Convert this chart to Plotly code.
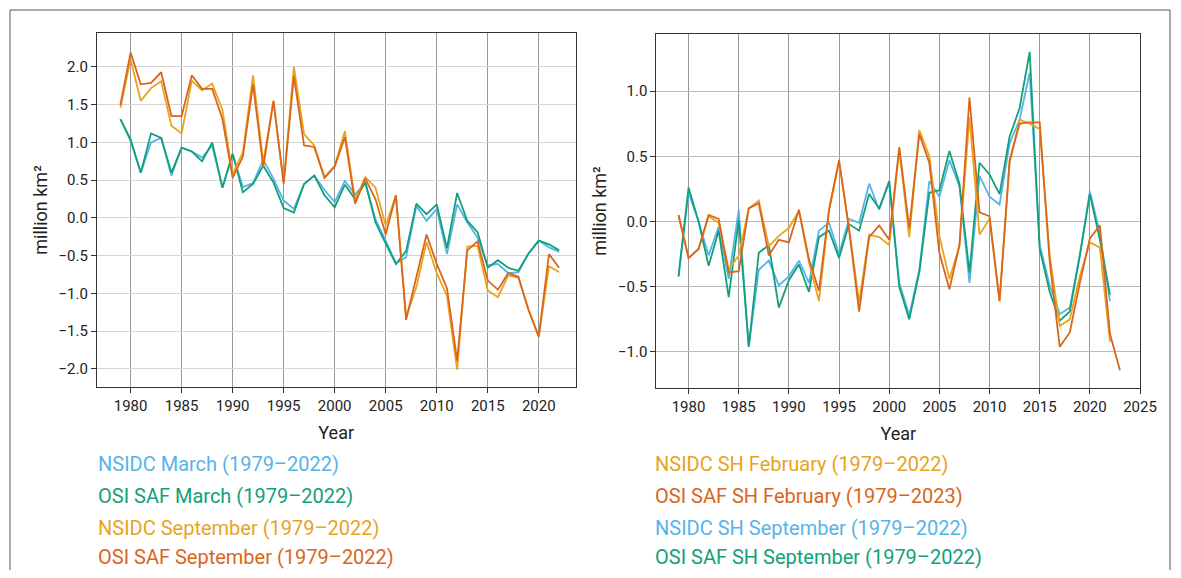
import plotly.graph_objects as go

# colours
blue = '#56B4E9'
green = '#12A07A'
yellow = '#E9A31C'
orange = '#D9661C'

# Arctic (left panel), anomalies in million km2
years_n = list(range(1979, 2023))
nsidc_march = [1.31, 1.02, 0.60, 1.00, 1.06, 0.56, 0.93, 0.88, 0.80, 0.96, 0.40, 0.85, 0.41, 0.46, 0.77,
               0.52, 0.23, 0.12, 0.45, 0.56, 0.37, 0.21, 0.49, 0.31, 0.47, -0.02, -0.30, -0.60, -0.52, 0.16,
               -0.04, 0.12, -0.48, 0.18, -0.06, -0.26, -0.63, -0.61, -0.73, -0.72, -0.47, -0.30, -0.39, -0.45]
osisaf_march = [1.31, 1.04, 0.60, 1.12, 1.06, 0.60, 0.93, 0.88, 0.75, 1.00, 0.40, 0.85, 0.34, 0.45, 0.69,
                0.47, 0.13, 0.07, 0.45, 0.56, 0.30, 0.14, 0.44, 0.25, 0.47, -0.06, -0.34, -0.61, -0.44, 0.19,
                0.05, 0.18, -0.40, 0.33, -0.04, -0.19, -0.66, -0.56, -0.66, -0.70, -0.47, -0.30, -0.35, -0.43]
nsidc_sept = [1.46, 2.10, 1.55, 1.72, 1.81, 1.22, 1.12, 1.82, 1.69, 1.78, 1.43, 0.58, 0.87, 1.89, 0.74,
              1.55, 0.47, 2.00, 1.11, 0.96, 0.54, 0.69, 1.15, 0.23, 0.54, 0.40, -0.10, 0.30, -1.31, -0.92,
              -0.32, -0.73, -1.03, -2.01, -0.38, -0.37, -0.96, -1.05, -0.76, -0.79, -1.22, -1.58, -0.64, -0.72]
osisaf_sept = [1.50, 2.19, 1.77, 1.79, 1.93, 1.35, 1.35, 1.89, 1.71, 1.71, 1.31, 0.53, 0.81, 1.77, 0.67,
               1.55, 0.45, 1.88, 0.96, 0.94, 0.53, 0.68, 1.07, 0.19, 0.52, 0.25, -0.22, 0.30, -1.35, -0.78,
               -0.22, -0.61, -0.93, -1.89, -0.43, -0.31, -0.83, -0.95, -0.73, -0.78, -1.22, -1.57, -0.48, -0.66]

# Antarctic (right panel)
years_s = list(range(1979, 2023))
years_s_osi_feb = list(range(1979, 2024))
nsidc_sh_feb = [0.05, -0.28, -0.21, 0.04, -0.01, -0.37, -0.26, 0.10, 0.16, -0.19, -0.11, -0.05, 0.08, -0.31, -0.61,
                0.08, 0.46, -0.05, -0.62, -0.10, -0.12, -0.18, 0.55, -0.12, 0.70, 0.50, -0.11, -0.44, -0.19, 0.80,
                -0.10, 0.02, -0.61, 0.45, 0.78, 0.75, 0.71, -0.26, -0.80, -0.75, -0.42, -0.16, -0.20, -0.92]
osisaf_sh_feb = [0.05, -0.28, -0.21, 0.05, 0.02, -0.39, -0.38, 0.10, 0.14, -0.26, -0.14, -0.16, 0.09, -0.29, -0.53,
                 0.09, 0.47, -0.06, -0.69, -0.12, -0.03, -0.14, 0.57, -0.05, 0.67, 0.45, -0.24, -0.52, -0.18, 0.95,
                 0.07, 0.04, -0.61, 0.47, 0.75, 0.76, 0.76, -0.31, -0.96, -0.85, -0.47, -0.13, -0.03, -0.86, -1.14]
nsidc_sh_sept = [-0.42, 0.22, 0.00, -0.26, -0.04, -0.44, 0.09, -0.96, -0.37, -0.30, -0.49, -0.42, -0.30, -0.47, -0.07,
                 -0.01, -0.25, 0.02, -0.01, 0.29, 0.09, 0.30, -0.47, -0.72, -0.37, 0.31, 0.19, 0.47, 0.27, -0.47,
                 0.35, 0.19, 0.13, 0.60, 0.78, 1.14, -0.18, -0.49, -0.71, -0.66, -0.26, 0.23, -0.09, -0.61]
osisaf_sh_sept = [-0.42, 0.26, 0.00, -0.34, -0.07, -0.58, 0.01, -0.96, -0.24, -0.18, -0.66, -0.45, -0.33, -0.54, -0.12,
                  -0.07, -0.28, -0.02, -0.07, 0.21, 0.10, 0.31, -0.50, -0.75, -0.39, 0.22, 0.24, 0.54, 0.29, -0.39,
                  0.45, 0.36, 0.21, 0.65, 0.87, 1.30, -0.21, -0.54, -0.76, -0.69, -0.26, 0.21, -0.14, -0.56]

left_series = [
    ('NSIDC March (1979–2022)', years_n, nsidc_march, blue),
    ('OSI SAF March (1979–2022)', years_n, osisaf_march, green),
    ('NSIDC September (1979–2022)', years_n, nsidc_sept, yellow),
    ('OSI SAF September (1979–2022)', years_n, osisaf_sept, orange),
]
right_series = [
    ('NSIDC SH September (1979–2022)', years_s, nsidc_sh_sept, blue),
    ('OSI SAF SH September (1979–2022)', years_s, osisaf_sh_sept, green),
    ('NSIDC SH February (1979–2022)', years_s, nsidc_sh_feb, yellow),
    ('OSI SAF SH February (1979–2023)', years_s_osi_feb, osisaf_sh_feb, orange),
]
right_legend_order = [2, 3, 0, 1]

# the page puts the figure 8px in from the corner and it renders 1165px wide
OFF = 8
W, H = 1181, 562
W_DRAWN = 1165
def px_x(x):
    return (x - OFF) / W_DRAWN
def px_y(y):
    return 1 - (y - OFF) / H

fig = go.Figure()
for name, x, y, c in left_series:
    fig.add_trace(go.Scatter(x=x, y=y, mode='lines', line=dict(color=c, width=1.8), name=name,
                             xaxis='x', yaxis='y'))
for name, x, y, c in right_series:
    fig.add_trace(go.Scatter(x=x, y=y, mode='lines', line=dict(color=c, width=1.8), name=name,
                             xaxis='x2', yaxis='y2'))

font = dict(family='Roboto, Liberation Sans', size=15, color='#222')
title_font = dict(family='Roboto, Liberation Sans', size=18, color='#222')
axis_common = dict(showline=True, linecolor='#333', linewidth=1, mirror=True, ticks='outside',
                   ticklen=5, tickcolor='#333', zeroline=False, tickfont=font)

fig.update_layout(
    width=W, height=H, margin=dict(l=0, r=0, t=0, b=0),
    paper_bgcolor='white', plot_bgcolor='white', showlegend=False,
    xaxis=dict(axis_common, domain=[px_x(97), px_x(576)], range=[1976.7, 2023.6], dtick=5,
               gridcolor='#999', anchor='y',
               title=dict(text='Year', font=title_font, standoff=12)),
    yaxis=dict(axis_common, domain=[px_y(387), px_y(33)], range=[-2.24, 2.45], dtick=0.5, tickformat='.1f',
               gridcolor='#d4d4d4', anchor='x',
               title=dict(text='million km²', font=title_font, standoff=6)),
    xaxis2=dict(axis_common, domain=[px_x(657), px_x(1141)], range=[1976.8, 2025], dtick=5,
                gridcolor='#999', anchor='y2',
                title=dict(text='Year', font=title_font, standoff=12)),
    yaxis2=dict(axis_common, domain=[px_y(388), px_y(34)], range=[-1.276, 1.437], dtick=0.5, tickformat='.1f',
                gridcolor='#bbb', anchor='x2',
                title=dict(text='million km²', font=title_font, standoff=6)),
)

# legend entries as coloured text
legend_rows = [464, 496, 528, 557]
for i, (name, x, y, c) in enumerate(left_series):
    fig.add_annotation(x=px_x(96), y=px_y(legend_rows[i]), xref='paper', yref='paper',
                       text=name, showarrow=False, xanchor='left', yanchor='middle',
                       font=dict(family='Roboto, Liberation Sans', size=20, color=c))
for i, k in enumerate(right_legend_order):
    name, x, y, c = right_series[k]
    fig.add_annotation(x=px_x(654), y=px_y(legend_rows[i]), xref='paper', yref='paper',
                       text=name, showarrow=False, xanchor='left', yanchor='middle',
                       font=dict(family='Roboto, Liberation Sans', size=20, color=c))

# outer frame
frame = dict(color='#555', width=1)
fig.add_shape(type='line', xref='paper', yref='paper', x0=px_x(10), x1=px_x(1171),
              y0=px_y(10), y1=px_y(10), line=frame)
fig.add_shape(type='line', xref='paper', yref='paper', x0=px_x(10), x1=px_x(10),
              y0=0, y1=px_y(10), line=frame)
fig.add_shape(type='line', xref='paper', yref='paper', x0=px_x(1171), x1=px_x(1171),
              y0=0, y1=px_y(10), line=frame)

fig.write_html('out.html')
